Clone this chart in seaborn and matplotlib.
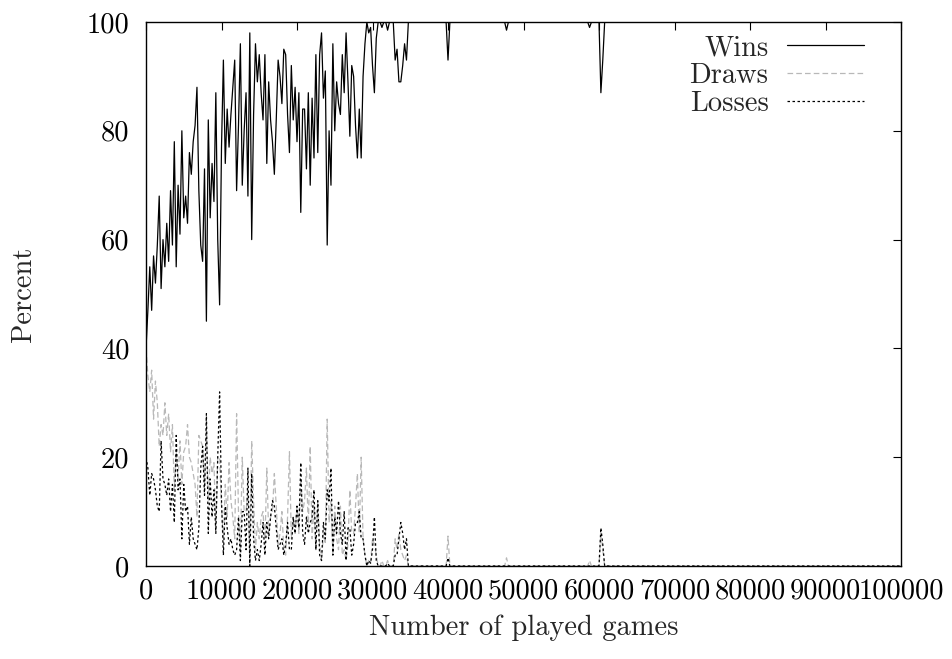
import numpy as np
import pandas as pd
import matplotlib
matplotlib.use("Agg")
import matplotlib.pyplot as plt
import seaborn as sns

# Percent of wins / draws / losses, sampled every GAME_STEP played games
GAME_STEP = 250
WINS_EARLY = [
    40, 47, 55, 47, 57, 52, 59, 68, 51, 60,
    55, 63, 56, 69, 59, 78, 55, 70, 61, 80,
    64, 68, 63, 76, 72, 78, 81, 88, 69, 59,
    56, 73, 45, 82, 64, 74, 67, 87, 60, 48,
    77, 93, 74, 84, 77, 83, 88, 93, 69, 81,
    96, 70, 80, 87, 68, 98, 60, 83, 96, 89,
    94, 87, 82, 94, 74, 89, 82, 78, 72, 82,
    93, 90, 85, 95, 94, 83, 76, 92, 82, 88,
    78, 87, 65, 84, 84, 73, 87, 70, 86, 75,
    94, 76, 94, 98, 86, 91, 59, 80, 70, 96,
    80, 89, 85, 83, 94, 87, 98, 89, 79, 92,
    90, 81, 75, 84, 75, 90, 96, 100, 98, 99,
    92, 87, 97, 100, 100, 99, 100, 100, 98.5, 100,
    100, 100, 93, 95, 89, 89, 92, 96, 93, 100,
    100,
]
DRAWS_EARLY = [
    40, 35, 32, 36, 27, 34, 30, 22, 26, 24,
    30, 24, 28, 21, 26, 14, 21, 16, 23, 15,
    21, 22, 26, 20, 19, 17, 15, 9, 24, 23,
    22, 14, 27, 12, 20, 17, 19, 7, 20, 20,
    11, 5, 15, 9, 19, 12, 9, 5, 28, 10,
    3, 20, 10, 10, 14, 2, 23, 12, 3, 8,
    5, 9, 10, 4, 18, 6, 9, 10, 17, 11,
    4, 6, 10, 3, 2, 9, 21, 5, 9, 6,
    11, 6, 16, 10, 12, 18, 7, 22, 5, 11,
    3, 12, 4, 1, 6, 4, 27, 8, 12, 2,
    11, 5, 3, 11, 2, 3, 1, 4, 14, 6,
    6, 11, 17, 6, 20, 5, 2, 0, 1, 0.5,
    5, 4, 2, 0, 0, 1, 0, 0, 1, 0,
    0, 0, 5, 3, 6, 3, 2, 1, 2, 0,
    0,
]
LOSSES_EARLY = [
    20, 18, 13, 17, 16, 14, 11, 10, 23, 16,
    15, 13, 16, 10, 15, 8, 24, 14, 16, 5,
    15, 10, 11, 4, 9, 5, 4, 3, 7, 18,
    22, 13, 28, 6, 16, 9, 14, 6, 20, 32,
    12, 2, 11, 7, 4, 5, 3, 2, 3, 9,
    1, 10, 10, 3, 18, 0, 17, 5, 1, 3,
    1, 4, 8, 2, 8, 5, 9, 12, 11, 7,
    3, 4, 5, 2, 4, 8, 3, 3, 9, 6,
    11, 7, 19, 6, 4, 9, 6, 8, 9, 14,
    3, 12, 2, 1, 8, 5, 14, 12, 18, 2,
    9, 6, 12, 6, 4, 10, 1, 7, 7, 2,
    4, 8, 8, 10, 5, 5, 2, 0, 1, 0.5,
    3, 9, 1, 0, 0, 0, 0, 0, 0.5, 0,
    0, 0, 2, 2, 5, 8, 6, 3, 5, 0,
    0,
]

# Later training: only the few games where the agent did not win everything
GAMES_LATE = [39750, 40000, 40250, 47500, 47750, 48000, 58500, 58750, 59000,
              60000, 60250, 60500, 60750, 100000]
WINS_LATE = [100, 93, 100, 100, 98.5, 100, 100, 99, 100, 100, 87, 93, 100, 100]
DRAWS_LATE = [0, 5.5, 0, 0, 1.5, 0, 0, 1, 0, 0, 6, 3, 0, 0]
LOSSES_LATE = [0, 1.5, 0, 0, 0, 0, 0, 0, 0, 0, 7, 4, 0, 0]

OUTCOMES = ["Wins", "Draws", "Losses"]
X_TICKS = [0, 10000, 20000, 30000, 40000, 50000, 60000, 70000, 80000, 90000, 100000]
X_TICK_LABELS = ["0", "10000", "20000", "30000", "40000", "50000", "60000",
                 "70000", "80000", "90000", "100000"]
Y_TICKS = [0, 20, 40, 60, 80, 100]
Y_TICK_LABELS = ["0", "20", "40", "60", "80", "100"]

games = np.concatenate([np.arange(len(WINS_EARLY)) * GAME_STEP, GAMES_LATE])
series = {
    "Wins": WINS_EARLY + WINS_LATE,
    "Draws": DRAWS_EARLY + DRAWS_LATE,
    "Losses": LOSSES_EARLY + LOSSES_LATE,
}
df = pd.concat(
    [pd.DataFrame({"games": games, "percent": vals, "outcome": name})
     for name, vals in series.items()],
    ignore_index=True,
)

sns.set_style("white")
plt.rcParams["font.family"] = ["cmr10", "DejaVu Serif"]
plt.rcParams["mathtext.fontset"] = "cm"
plt.rcParams["axes.formatter.use_mathtext"] = True
plt.rcParams["lines.linewidth"] = 0.9
FS = 20.5

fig = plt.figure(figsize=(9.52, 6.59), dpi=100)
ax = fig.add_axes([146 / 952, 1 - 566 / 659, 755 / 952, 544 / 659])

sns.lineplot(
    data=df, x="games", y="percent", hue="outcome", style="outcome",
    hue_order=OUTCOMES, style_order=OUTCOMES,
    palette={"Wins": "black", "Draws": "#b8b8b8", "Losses": "black"},
    dashes={"Wins": "", "Draws": (4.5, 2.5), "Losses": (2.0, 2.0)},
    estimator=None, linewidth=0.9, ax=ax,
)

ax.set_xlim(0, 100000)
ax.set_ylim(0, 100)
ax.set_xticks(X_TICKS, labels=X_TICK_LABELS)
ax.set_yticks(Y_TICKS, labels=Y_TICK_LABELS)
ax.tick_params(direction="in", length=5.5, width=0.8, top=True, right=True,
               labelsize=FS, colors="black")
ax.tick_params(axis="x", pad=9)
ax.tick_params(axis="y", pad=12)
for sp in ax.spines.values():
    sp.set_linewidth(1.0)
    sp.set_color("black")

ax.set_xlabel("Number of played games", fontsize=FS)
ax.set_ylabel("Percent", fontsize=FS)
ax.xaxis.set_label_coords(0.5, -0.09)
ax.yaxis.set_label_coords(-0.145, 0.5)

handles, labels = ax.get_legend_handles_labels()
pairs = {l: h for h, l in zip(handles, labels)}
ax.legend([pairs[o] for o in OUTCOMES], OUTCOMES, loc="upper right",
          bbox_to_anchor=(0.966, 0.997), frameon=False, fontsize=FS,
          markerfirst=False, handlelength=2.7, handletextpad=0.65,
          labelspacing=0.05, borderaxespad=0.0)

fig.savefig("out.png", dpi=100)
